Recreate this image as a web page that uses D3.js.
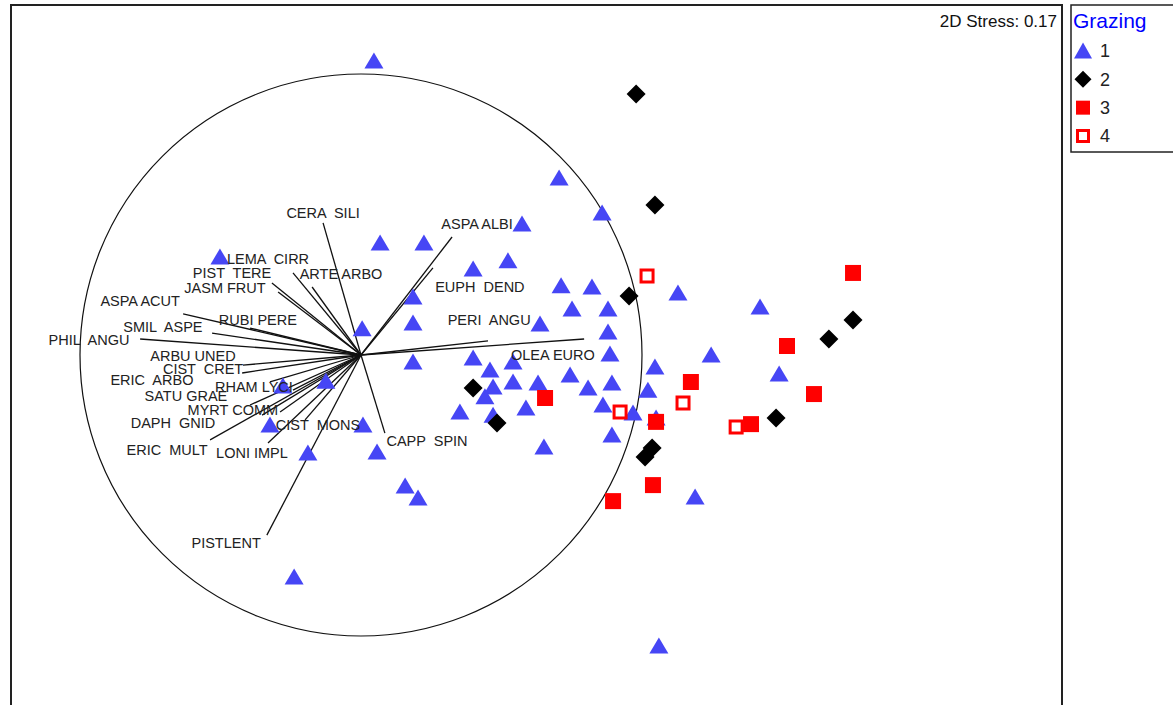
<!DOCTYPE html>
<html><head><meta charset="utf-8">
<script src="https://cdn.jsdelivr.net/npm/d3@7"></script>
<style>
html,body{margin:0;padding:0;background:#fff;}
svg{display:block;font-family:"Liberation Sans",Arial,sans-serif;}
</style></head>
<body>
<svg id="chart" width="1173" height="705"></svg>
<script>
// ---- data (NMDS coordinates; circle radius = correlation 1) ----
const groups = ["1","2","3","4"];
const g1X = [0.046,0.705,0.858,0.573,0.068,0.224,-0.502,0.399,0.523,0.712,0.822,0.185,0.751,0.879,0.185,0.004,0.637,0.879,1.128,1.420,0.886,0.399,0.185,0.541,1.046,1.246,1.488,0.459,0.744,0.893,1.021,0.541,0.630,0.808,0.470,0.441,-0.278,-0.125,0.352,0.470,0.587,0.861,0.968,1.050,-0.324,0.007,0.893,0.651,-0.189,0.057,0.157,0.203,1.189,-0.238,1.060];
const g1Y = [1.046,0.630,0.505,0.466,0.399,0.399,0.349,0.306,0.335,0.246,0.242,0.206,0.164,0.164,0.114,0.093,0.110,0.082,0.221,0.171,0.004,-0.011,-0.025,-0.025,-0.043,0.000,-0.068,-0.053,-0.071,-0.100,-0.125,-0.096,-0.100,-0.117,-0.114,-0.149,-0.110,-0.093,-0.203,-0.214,-0.189,-0.178,-0.206,-0.224,-0.249,-0.249,-0.285,-0.327,-0.349,-0.345,-0.466,-0.509,-0.505,-0.790,-1.036];
const g2X = [0.979,1.046,0.954,1.751,1.665,0.399,0.484,1.477,1.036,1.011];
const g2Y = [0.929,0.534,0.210,0.125,0.057,-0.117,-0.242,-0.224,-0.331,-0.363];
const g3X = [1.751,1.516,1.174,1.612,0.655,1.050,1.388,1.039,0.897];
const g3Y = [0.292,0.032,-0.096,-0.139,-0.153,-0.238,-0.246,-0.463,-0.520];
const g4X = [1.018,0.922,1.146,1.335];
const g4Y = [0.281,-0.203,-0.171,-0.256];

const vecNames = ["CERA  SILI","ASPA ALBI","EUPH  DEND","LEMA  CIRR","ARTE ARBO","JASM FRUT","PIST  TERE","ASPA ACUT","RUBI PERE","SMIL  ASPE","PHIL  ANGU","ARBU UNED","CIST  CRET","ERIC  ARBO","RHAM LYCI","SATU GRAE","MYRT COMM","DAPH  GNID","ERIC  MULT","LONI IMPL","CIST  MONS","PISTLENT","CAPP  SPIN","PERI  ANGU","OLEA EURO"];
const vecX = [-0.135,0.324,0.256,-0.242,-0.174,-0.317,-0.295,-0.633,-0.395,-0.530,-0.786,-0.420,-0.423,-0.324,-0.242,-0.395,-0.288,-0.352,-0.537,-0.331,-0.199,-0.335,0.085,0.452,0.794];
const vecY = [0.470,0.420,0.310,0.292,0.242,0.256,0.224,0.146,0.096,0.078,0.057,-0.036,-0.064,-0.096,-0.125,-0.178,-0.203,-0.214,-0.302,-0.313,-0.231,-0.641,-0.278,0.050,0.057];
const labX = [-0.135,0.413,0.423,-0.331,-0.071,-0.484,-0.459,-0.786,-0.367,-0.705,-0.968,-0.598,-0.562,-0.744,-0.381,-0.623,-0.456,-0.669,-0.690,-0.388,-0.153,-0.480,0.235,0.456,0.683];
const labY = [0.505,0.466,0.242,0.342,0.288,0.238,0.291,0.192,0.125,0.100,0.053,-0.004,-0.050,-0.089,-0.114,-0.146,-0.196,-0.242,-0.338,-0.349,-0.249,-0.669,-0.306,0.125,0.000];

const stressText = "2D Stress: 0.17";
const legendTitle = "Grazing";

// ---- layout ----
const svg = d3.select("#chart");
const cx = 361, cy = 355, R = 281;
const x = d3.scaleLinear().domain([-1, 1]).range([cx - R, cx + R]);
const y = d3.scaleLinear().domain([-1, 1]).range([cy + R, cy - R]);

// plot frame
svg.append("rect").attr("x", 11).attr("y", 5).attr("width", 1051).attr("height", 720)
  .attr("fill", "none").attr("stroke", "#222").attr("stroke-width", 2);

// stress
svg.append("text").attr("x", 1057).attr("y", 27).attr("text-anchor", "end")
  .attr("font-size", 17).attr("fill", "#111").text(stressText);

// circle
svg.append("circle").attr("cx", x(0)).attr("cy", y(0)).attr("r", x(1) - x(0))
  .attr("fill", "none").attr("stroke", "#111").attr("stroke-width", 1.2);

// vectors
const vecs = vecNames.map((n, i) => ({n, x: vecX[i], y: vecY[i], lx: labX[i], ly: labY[i]}));
svg.append("g").selectAll("line").data(vecs).join("line")
  .attr("x1", x(0)).attr("y1", y(0))
  .attr("x2", d => x(d.x)).attr("y2", d => y(d.y))
  .attr("stroke", "#111").attr("stroke-width", 1.3);

// symbols
const colors = {"1": "#4646f5", "2": "#000", "3": "#ff0000", "4": "#ff0000"};
function symPath(g) {
  if (g === "1") return "M0,-8.5L9.5,7.5L-9.5,7.5Z";
  if (g === "2") return "M0,-9.5L9.5,0L0,9.5L-9.5,0Z";
  if (g === "3") return "M-8,-8H8V8H-8Z";
  return "M-6,-6H6V6H-6Z";
}
const pts = [];
g1X.forEach((v, i) => pts.push({g: "1", x: v, y: g1Y[i]}));
g3X.forEach((v, i) => pts.push({g: "3", x: v, y: g3Y[i]}));
g4X.forEach((v, i) => pts.push({g: "4", x: v, y: g4Y[i]}));
g2X.forEach((v, i) => pts.push({g: "2", x: v, y: g2Y[i]}));
svg.append("g").selectAll("path").data(pts).join("path")
  .attr("transform", d => `translate(${x(d.x)},${y(d.y)})`)
  .attr("d", d => symPath(d.g))
  .attr("fill", d => d.g === "4" ? "#fff" : colors[d.g])
  .attr("stroke", d => d.g === "4" ? "#ff0000" : "none")
  .attr("stroke-width", d => d.g === "4" ? 3 : 0);

// vector labels
svg.append("g").selectAll("text").data(vecs).join("text")
  .attr("x", d => x(d.lx)).attr("y", d => y(d.ly)).attr("dy", "0.36em")
  .attr("text-anchor", "middle").attr("font-size", 14.5).attr("fill", "#222")
  .style("white-space", "pre").text(d => d.n);

// legend
const lg = svg.append("g");
lg.append("rect").attr("x", 1071).attr("y", 5).attr("width", 120).attr("height", 147)
  .attr("fill", "#fff").attr("stroke", "#222").attr("stroke-width", 1.5);
lg.append("text").attr("x", 1073).attr("y", 28).attr("font-size", 21).attr("fill", "#0000ff").text(legendTitle);
const legY = d3.scalePoint().domain(groups).range([51, 136]);
groups.forEach(g => {
  const sp = g === "2" ? "M0,-8.5L8.5,0L0,8.5L-8.5,0Z" : g === "1" ? "M0,-8.5L9,7.5L-9,7.5Z" : g === "3" ? "M-7,-7H7V7H-7Z" : "M-5.5,-5.5H5.5V5.5H-5.5Z";
  lg.append("path").attr("transform", `translate(1083,${legY(g)})`).attr("d", sp)
    .attr("fill", g === "4" ? "#fff" : colors[g])
    .attr("stroke", g === "4" ? "#ff0000" : "none").attr("stroke-width", g === "4" ? 3 : 0);
  lg.append("text").attr("x", 1100).attr("y", legY(g)).attr("dy", "0.36em")
    .attr("font-size", 18).attr("fill", "#222").text(g);
});
</script>
</body></html>
